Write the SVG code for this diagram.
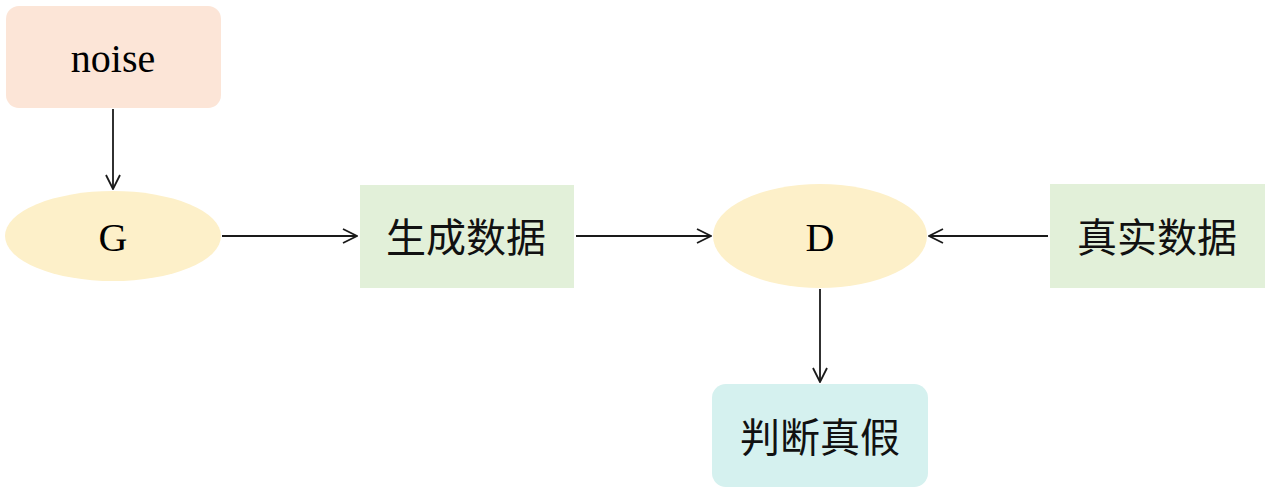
<svg xmlns="http://www.w3.org/2000/svg" width="1275" height="495" viewBox="0 0 1275 495">
<style>
.lat{font-family:"Liberation Serif","Times New Roman",serif;font-size:40px;fill:#000;text-anchor:middle;dominant-baseline:central}
.cjk{font-family:"Liberation Serif","Noto Sans CJK SC",sans-serif;font-size:40px;fill:#111;text-anchor:middle;dominant-baseline:central}
.edge{stroke:#1a1a1a;stroke-width:1.8;fill:none;marker-end:url(#arr)}
</style>
<defs>
<marker id="arr" viewBox="0 0 16 16" refX="15" refY="8" markerWidth="16" markerHeight="16" markerUnits="userSpaceOnUse" orient="auto">
<polyline points="1,1 15,8 1,15" fill="none" stroke="#1a1a1a" stroke-width="1.8"/>
</marker>
</defs>
<rect width="1275" height="495" fill="#fff"/>
<g id="noise"><rect x="6" y="6" width="215" height="102" rx="13" fill="#fce5d7"/><text class="lat" x="113" y="58">noise</text></g>
<g id="G"><ellipse cx="113" cy="236" rx="108" ry="45" fill="#fdf0c9"/><text class="lat" x="113" y="237">G</text></g>
<g id="gen"><rect x="360" y="185" width="214" height="103" fill="#e2f0d9"/><text class="cjk" x="466" y="238">生成数据</text></g>
<g id="D"><ellipse cx="820" cy="236" rx="107" ry="52" fill="#fdf0c9"/><text class="lat" x="820" y="237">D</text></g>
<g id="real"><rect x="1050" y="184" width="215" height="104" fill="#e2f0d9"/><text class="cjk" x="1157" y="238">真实数据</text></g>
<g id="judge"><rect x="712" y="384" width="216" height="103" rx="14" fill="#d5f1ef"/><text class="cjk" x="820" y="438">判断真假</text></g>
<g id="connectors">
<line class="edge" x1="113" y1="109" x2="113" y2="189"/>
<line class="edge" x1="222" y1="236" x2="357" y2="236"/>
<line class="edge" x1="576" y1="236" x2="711" y2="236"/>
<line class="edge" x1="1048" y1="236" x2="929" y2="236"/>
<line class="edge" x1="820" y1="289" x2="820" y2="382"/>
</g>
</svg>
